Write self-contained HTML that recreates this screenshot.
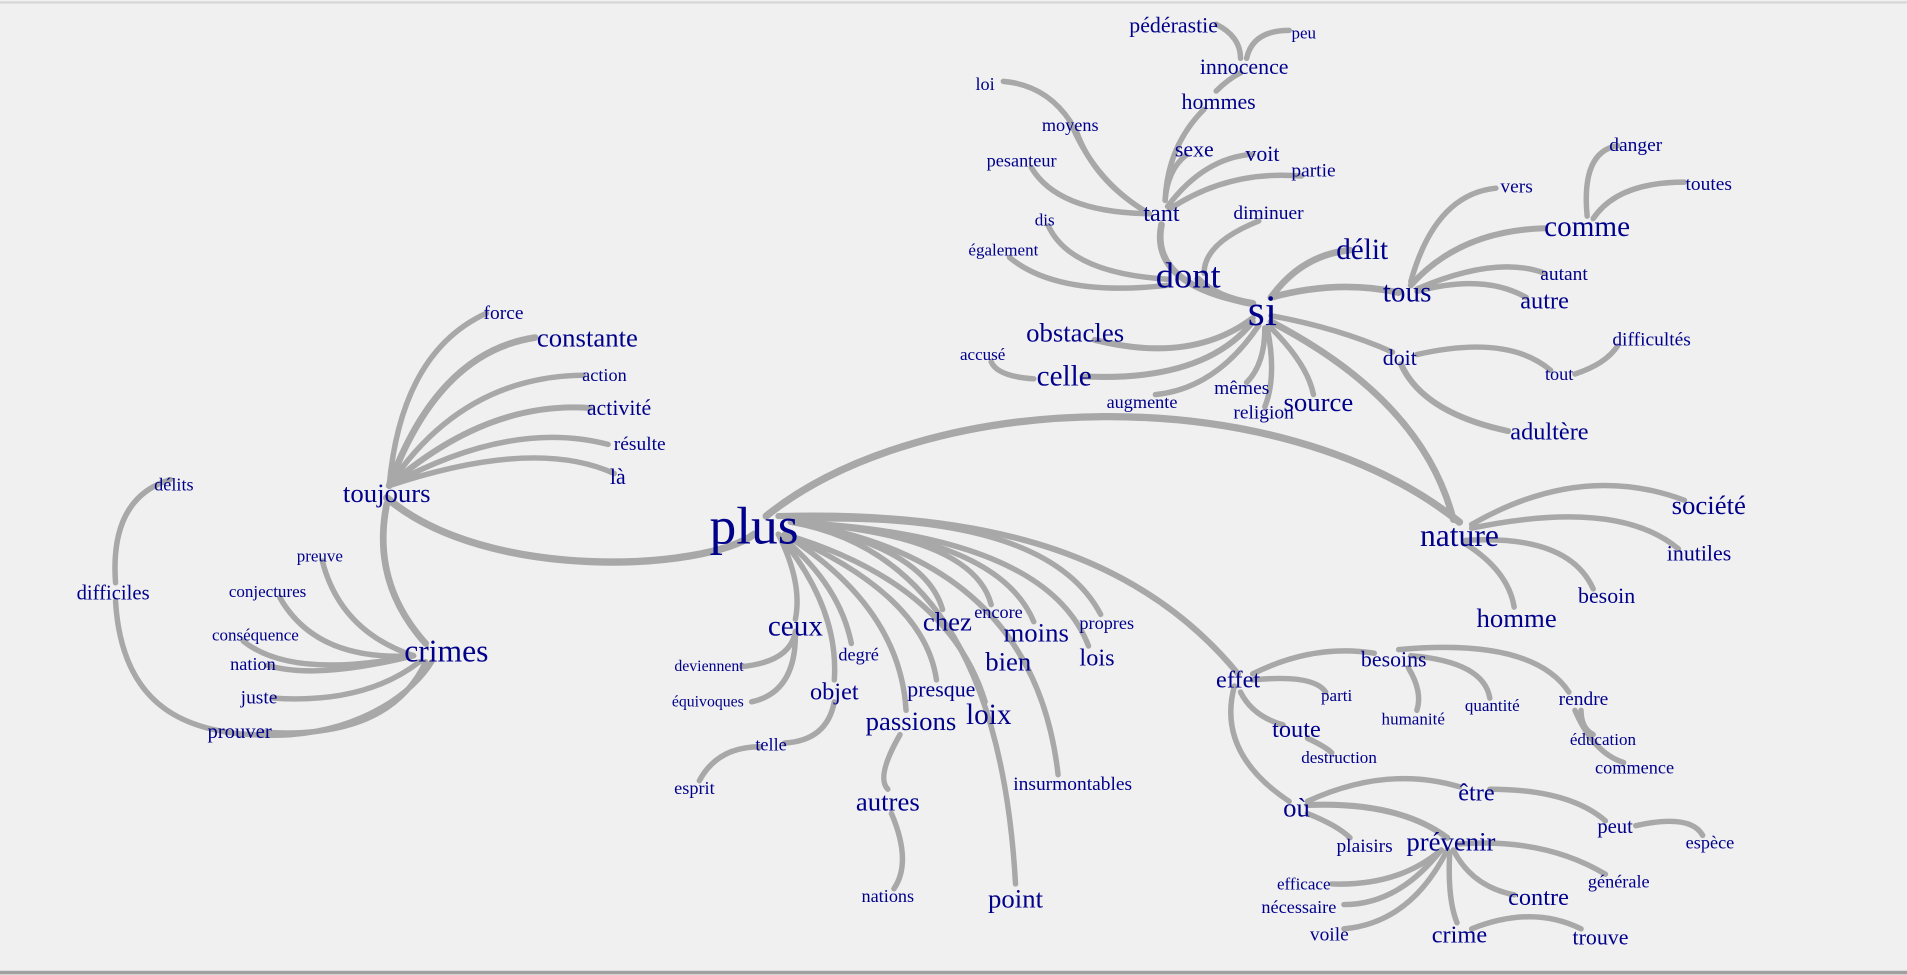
<!DOCTYPE html>
<html><head><meta charset="utf-8"><style>
html,body{margin:0;padding:0;background:#f0f0f0;}
svg{display:block;}
text{font-family:"Liberation Serif",serif;fill:#00008b;text-anchor:middle;dominant-baseline:central;}
path{fill:none;stroke:#a8a8a8;stroke-linecap:round;}
</style></head><body>
<svg width="1907" height="975" viewBox="0 0 1568 803" preserveAspectRatio="none">
<rect x="0" y="0" width="1568" height="803" fill="#f0f0f0"/>
<line x1="0" y1="2" x2="1568" y2="2" stroke="#d8d8d8" stroke-width="2"/>
<line x1="0" y1="801" x2="1568" y2="801" stroke="#a0a0a0" stroke-width="3"/>
<g stroke-width="4.5">
<path d="M620 440 C580 470 400 480 318 410" stroke-width="6"/>
<path d="M630 425 C760 320 1050 310 1200 430" stroke-width="6"/>
<path d="M640 425 C820 420 940 460 1018 555" stroke-width="5"/>
<path d="M640 440 Q660 480 654 510"/>
<path d="M654 520 Q650 545 610 549"/>
<path d="M654 520 Q655 570 618 578"/>
<path d="M640 440 Q690 480 700 530"/>
<path d="M640 440 Q690 500 686 560"/>
<path d="M686 578 Q680 610 645 612"/>
<path d="M625 615 Q590 615 575 643"/>
<path d="M645 440 Q740 500 745 585"/>
<path d="M740 605 Q720 640 730 650"/>
<path d="M733 670 Q750 710 735 732"/>
<path d="M645 440 Q760 490 770 560"/>
<path d="M645 440 Q780 480 810 578"/>
<path d="M650 430 Q760 450 775 502"/>
<path d="M650 430 Q820 460 835 728"/>
<path d="M650 430 Q820 440 850 512"/>
<path d="M650 430 Q800 440 815 498"/>
<path d="M650 430 Q860 440 895 532"/>
<path d="M650 428 Q860 420 905 506"/>
<path d="M650 430 Q850 460 870 638"/>
<path d="M320 400 Q330 290 400 258"/>
<path d="M320 400 Q360 290 440 278" stroke-width="5.5"/>
<path d="M320 400 Q380 310 480 309"/>
<path d="M320 400 Q400 330 485 336" stroke-width="5"/>
<path d="M320 400 Q420 345 500 366"/>
<path d="M320 400 Q440 360 505 390"/>
<path d="M318 415 Q305 480 350 530" stroke-width="5.5"/>
<path d="M340 540 Q280 520 265 462"/>
<path d="M340 540 Q260 545 230 492"/>
<path d="M340 540 Q240 560 200 528"/>
<path d="M340 540 Q260 560 220 548"/>
<path d="M345 545 Q300 580 225 575"/>
<path d="M350 545 Q320 610 215 603"/>
<path d="M95 495 C100 580 150 610 240 605 C300 600 340 570 355 545"/>
<path d="M95 480 Q90 410 140 395"/>
<path d="M1030 250 Q1000 245 985 230" stroke-width="6"/>
<path d="M1045 245 Q1070 210 1110 206" stroke-width="5.5"/>
<path d="M1045 245 Q1100 230 1150 241" stroke-width="5.5"/>
<path d="M1045 260 Q1100 270 1145 290"/>
<path d="M1045 265 Q1170 330 1195 428" stroke-width="5.5"/>
<path d="M1030 262 Q980 300 900 280" stroke-width="5"/>
<path d="M1030 265 Q990 315 890 310" stroke-width="5"/>
<path d="M1035 268 Q1000 320 950 325"/>
<path d="M1040 270 Q1040 300 1025 315"/>
<path d="M1042 270 Q1050 310 1040 335"/>
<path d="M1045 270 Q1075 300 1080 325"/>
<path d="M955 185 Q945 235 1030 250" stroke-width="5.5"/>
<path d="M960 235 Q870 245 830 212"/>
<path d="M960 230 Q880 225 862 186"/>
<path d="M945 176 Q870 175 848 138"/>
<path d="M945 176 Q900 150 885 108"/>
<path d="M945 176 Q900 150 880 100 Q860 70 825 67"/>
<path d="M958 165 Q960 140 975 128"/>
<path d="M958 165 Q960 120 990 90"/>
<path d="M960 170 Q990 130 1030 127"/>
<path d="M962 172 Q1010 140 1070 145"/>
<path d="M1035 182 Q990 200 990 225"/>
<path d="M1000 75 Q1010 65 1020 60"/>
<path d="M1020 48 Q1020 30 1000 20"/>
<path d="M1025 48 Q1030 25 1060 25"/>
<path d="M1160 235 Q1200 190 1270 188" stroke-width="5"/>
<path d="M1165 240 Q1220 225 1255 245"/>
<path d="M1165 238 Q1230 210 1270 225"/>
<path d="M1160 232 Q1180 160 1230 155"/>
<path d="M1305 178 Q1300 125 1330 120"/>
<path d="M1310 180 Q1330 150 1385 150"/>
<path d="M1165 292 Q1240 275 1275 305"/>
<path d="M1295 308 Q1320 300 1330 285"/>
<path d="M1152 300 Q1170 340 1240 355" stroke-width="5"/>
<path d="M850 312 Q820 310 815 298"/>
<path d="M1210 432 Q1300 380 1385 412"/>
<path d="M1210 435 Q1330 410 1380 452"/>
<path d="M1205 445 Q1290 440 1310 485"/>
<path d="M1205 448 Q1240 470 1245 500"/>
<path d="M1030 555 Q1080 530 1130 538"/>
<path d="M1030 560 Q1080 555 1090 570"/>
<path d="M1020 570 Q1030 590 1055 597"/>
<path d="M1015 565 Q1000 620 1060 660"/>
<path d="M1158 550 Q1170 570 1165 585"/>
<path d="M1160 540 Q1220 545 1225 575"/>
<path d="M1150 535 Q1260 525 1290 570"/>
<path d="M1300 585 Q1300 600 1310 605"/>
<path d="M1295 585 Q1310 620 1335 628"/>
<path d="M1075 608 Q1090 615 1095 620"/>
<path d="M1075 660 Q1140 630 1200 648"/>
<path d="M1075 670 Q1100 680 1110 690"/>
<path d="M1075 663 Q1150 660 1190 690" stroke-width="5"/>
<path d="M1225 650 Q1290 650 1320 676"/>
<path d="M1345 680 Q1390 670 1400 688"/>
<path d="M1200 695 Q1270 690 1320 720"/>
<path d="M1195 700 Q1210 730 1245 737"/>
<path d="M1185 700 Q1150 730 1095 728"/>
<path d="M1185 700 Q1150 745 1105 745"/>
<path d="M1190 700 Q1160 760 1105 765"/>
<path d="M1192 702 Q1190 740 1198 760"/>
<path d="M1210 765 Q1260 745 1300 765"/>
</g>
<g>
<text x="620" y="433" font-size="44">plus</text>
<text x="318" y="406" font-size="22">toujours</text>
<text x="367" y="536" font-size="26">crimes</text>
<text x="1038" y="256" font-size="36">si</text>
<text x="977" y="227" font-size="30">dont</text>
<text x="1200" y="441" font-size="26">nature</text>
<text x="1018" y="560" font-size="20">effet</text>
<text x="955" y="176" font-size="20">tant</text>
<text x="1120" y="206" font-size="24">délit</text>
<text x="1157" y="241" font-size="24">tous</text>
<text x="1305" y="187" font-size="24">comme</text>
<text x="1270" y="248" font-size="20">autre</text>
<text x="1286" y="226" font-size="16">autant</text>
<text x="1247" y="154" font-size="16">vers</text>
<text x="1345" y="120" font-size="16">danger</text>
<text x="1405" y="152" font-size="16">toutes</text>
<text x="1151" y="295" font-size="18">doit</text>
<text x="1282" y="308" font-size="15">tout</text>
<text x="1358" y="280" font-size="16">difficultés</text>
<text x="1274" y="356" font-size="20">adultère</text>
<text x="884" y="274" font-size="22">obstacles</text>
<text x="875" y="310" font-size="24">celle</text>
<text x="808" y="292" font-size="14">accusé</text>
<text x="939" y="331" font-size="15">augmente</text>
<text x="1021" y="320" font-size="16">mêmes</text>
<text x="1039" y="340" font-size="16">religion</text>
<text x="1084" y="331" font-size="22">source</text>
<text x="825" y="206" font-size="14">également</text>
<text x="859" y="181" font-size="14">dis</text>
<text x="840" y="132" font-size="15">pesanteur</text>
<text x="880" y="103" font-size="15">moyens</text>
<text x="810" y="69" font-size="15">loi</text>
<text x="982" y="123" font-size="18">sexe</text>
<text x="1038" y="127" font-size="18">voit</text>
<text x="1080" y="141" font-size="16">partie</text>
<text x="1043" y="176" font-size="16">diminuer</text>
<text x="1002" y="84" font-size="18">hommes</text>
<text x="1023" y="55" font-size="18">innocence</text>
<text x="965" y="21" font-size="18">pédérastie</text>
<text x="1072" y="27" font-size="14">peu</text>
<text x="1405" y="416" font-size="22">société</text>
<text x="1397" y="456" font-size="18">inutiles</text>
<text x="1321" y="491" font-size="18">besoin</text>
<text x="1247" y="509" font-size="22">homme</text>
<text x="414" y="258" font-size="16">force</text>
<text x="483" y="278" font-size="22">constante</text>
<text x="497" y="309" font-size="15">action</text>
<text x="509" y="336" font-size="18">activité</text>
<text x="526" y="366" font-size="16">résulte</text>
<text x="508" y="393" font-size="18">là</text>
<text x="143" y="399" font-size="15">délits</text>
<text x="93" y="489" font-size="17">difficiles</text>
<text x="263" y="458" font-size="14">preuve</text>
<text x="220" y="487" font-size="14">conjectures</text>
<text x="210" y="523" font-size="14">conséquence</text>
<text x="208" y="547" font-size="15">nation</text>
<text x="213" y="575" font-size="16">juste</text>
<text x="197" y="603" font-size="17">prouver</text>
<text x="654" y="516" font-size="24">ceux</text>
<text x="583" y="549" font-size="13">deviennent</text>
<text x="582" y="578" font-size="13">équivoques</text>
<text x="706" y="539" font-size="15">degré</text>
<text x="686" y="570" font-size="20">objet</text>
<text x="634" y="613" font-size="15">telle</text>
<text x="571" y="649" font-size="15">esprit</text>
<text x="774" y="568" font-size="18">presque</text>
<text x="749" y="594" font-size="22">passions</text>
<text x="813" y="589" font-size="24">loix</text>
<text x="730" y="660" font-size="22">autres</text>
<text x="730" y="738" font-size="15">nations</text>
<text x="779" y="512" font-size="22">chez</text>
<text x="821" y="504" font-size="15">encore</text>
<text x="852" y="521" font-size="22">moins</text>
<text x="829" y="545" font-size="22">bien</text>
<text x="910" y="513" font-size="15">propres</text>
<text x="902" y="542" font-size="20">lois</text>
<text x="882" y="646" font-size="16">insurmontables</text>
<text x="835" y="740" font-size="22">point</text>
<text x="1146" y="543" font-size="18">besoins</text>
<text x="1099" y="573" font-size="14">parti</text>
<text x="1162" y="592" font-size="14">humanité</text>
<text x="1227" y="581" font-size="14">quantité</text>
<text x="1302" y="576" font-size="16">rendre</text>
<text x="1318" y="609" font-size="14">éducation</text>
<text x="1344" y="632" font-size="15">commence</text>
<text x="1066" y="601" font-size="20">toute</text>
<text x="1101" y="624" font-size="14">destruction</text>
<text x="1066" y="665" font-size="22">où</text>
<text x="1214" y="653" font-size="20">être</text>
<text x="1122" y="697" font-size="16">plaisirs</text>
<text x="1193" y="693" font-size="22">prévenir</text>
<text x="1328" y="681" font-size="17">peut</text>
<text x="1406" y="694" font-size="15">espèce</text>
<text x="1331" y="726" font-size="15">générale</text>
<text x="1265" y="739" font-size="20">contre</text>
<text x="1072" y="728" font-size="14">efficace</text>
<text x="1068" y="747" font-size="15">nécessaire</text>
<text x="1093" y="770" font-size="16">voile</text>
<text x="1200" y="770" font-size="20">crime</text>
<text x="1316" y="772" font-size="18">trouve</text>
</g>
</svg>
</body></html>
